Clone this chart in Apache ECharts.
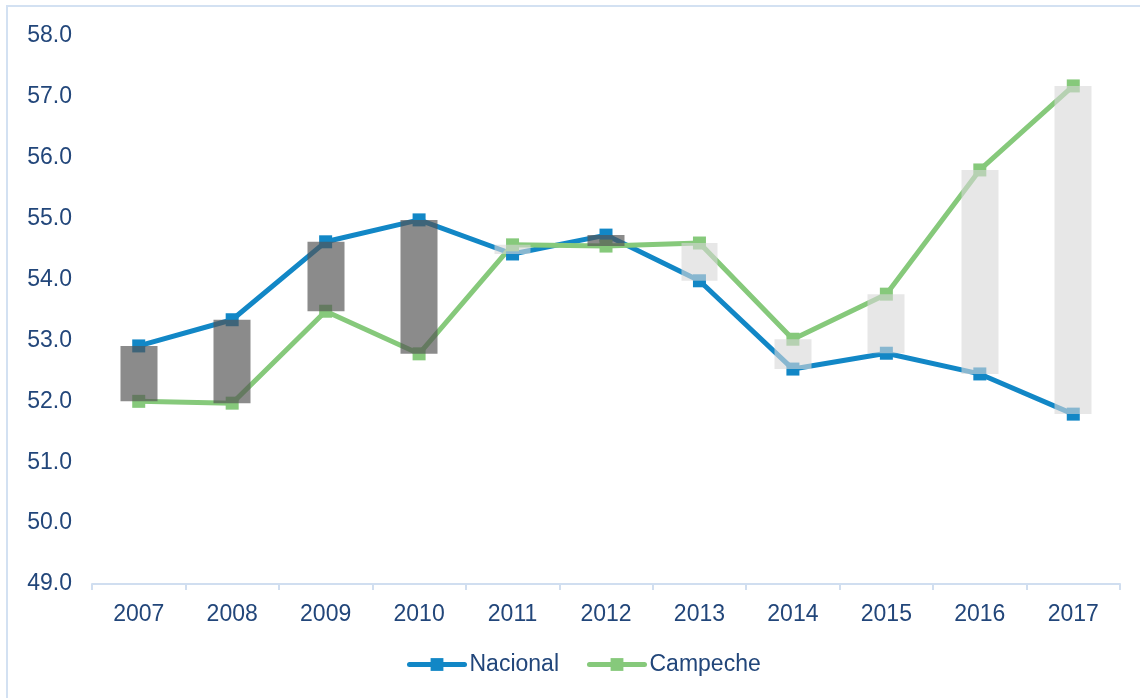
<!DOCTYPE html>
<html>
<head>
<meta charset="utf-8">
<script src="https://cdn.jsdelivr.net/npm/echarts@6/dist/echarts.min.js"></script>
<style>
html,body{margin:0;padding:0;background:#fff;}
#chart{width:1140px;height:698px;}
</style>
</head>
<body>
<div id="chart"></div>
<script>
const years = ['2007','2008','2009','2010','2011','2012','2013','2014','2015','2016','2017'];
const nacional = [52.91, 53.34, 54.62, 54.98, 54.42, 54.73, 53.98, 52.53, 52.79, 52.45, 51.79];
const campeche = [52.00, 51.97, 53.48, 52.78, 54.57, 54.55, 54.60, 53.02, 53.76, 55.80, 57.18];
const yMin = 49, yMax = 58, yStep = 1;

const textColor = '#22467a';
const font = 'Liberation Sans, Arial, sans-serif';

// up/down bars from Nacional (open) to Campeche (close)
const updown = years.map((y, i) => [nacional[i], campeche[i], Math.min(nacional[i], campeche[i]), Math.max(nacional[i], campeche[i])]);

const chart = echarts.init(document.getElementById('chart'), null, {renderer: 'canvas'});
chart.setOption({
  backgroundColor: '#ffffff',
  animation: false,
  grid: {left: 92, right: 20, top: 36, bottom: 114, containLabel: false},
  graphic: [
    {type: 'line', shape: {x1: 7, y1: 5, x2: 7, y2: 698}, style: {stroke: '#d3e1f2', lineWidth: 2}, silent: true},
    {type: 'line', shape: {x1: 6, y1: 6, x2: 1140, y2: 6}, style: {stroke: '#d3e1f2', lineWidth: 2}, silent: true}
  ],
  legend: {
    bottom: 17,
    left: 402,
    itemWidth: 55,
    itemHeight: 16,
    itemGap: 28,
    lineStyle: {width: 5, cap: 'round'},
    textStyle: {color: textColor, fontSize: 23, fontFamily: font},
    data: ['Nacional', 'Campeche']
  },
  xAxis: {
    type: 'category',
    data: years,
    boundaryGap: true,
    axisLine: {show: true, lineStyle: {color: '#d0def0', width: 2}},
    axisTick: {show: true, length: 6, lineStyle: {color: '#d0def0', width: 2}},
    axisLabel: {color: textColor, fontSize: 23, fontFamily: font, margin: 19},
    splitLine: {show: false}
  },
  yAxis: {
    type: 'value',
    min: yMin,
    max: yMax,
    interval: yStep,
    axisLine: {show: false},
    axisTick: {show: false},
    splitLine: {show: false},
    axisLabel: {color: textColor, fontSize: 23, fontFamily: font, margin: 20,
      formatter: v => v.toFixed(1)}
  },
  series: [
    {
      name: 'Nacional',
      type: 'line',
      data: nacional,
      z: 3,
      symbol: 'rect',
      symbolSize: 13,
      showAllSymbol: true,
      lineStyle: {color: '#1287c6', width: 5},
      itemStyle: {color: '#1287c6'}
    },
    {
      name: 'Campeche',
      type: 'line',
      data: campeche,
      z: 3,
      symbol: 'rect',
      symbolSize: 13,
      showAllSymbol: true,
      lineStyle: {color: '#86c97b', width: 5},
      itemStyle: {color: '#86c97b'}
    },
    {
      name: 'updown',
      type: 'candlestick',
      data: updown,
      z: 5,
      barWidth: '40%',
      itemStyle: {
        color: 'rgba(215,215,215,0.6)',
        color0: 'rgba(84,84,84,0.68)',
        borderColor: 'rgba(215,215,215,0)',
        borderColor0: 'rgba(84,84,84,0)',
        borderWidth: 0
      }
    }
  ]
});
</script>
</body>
</html>
